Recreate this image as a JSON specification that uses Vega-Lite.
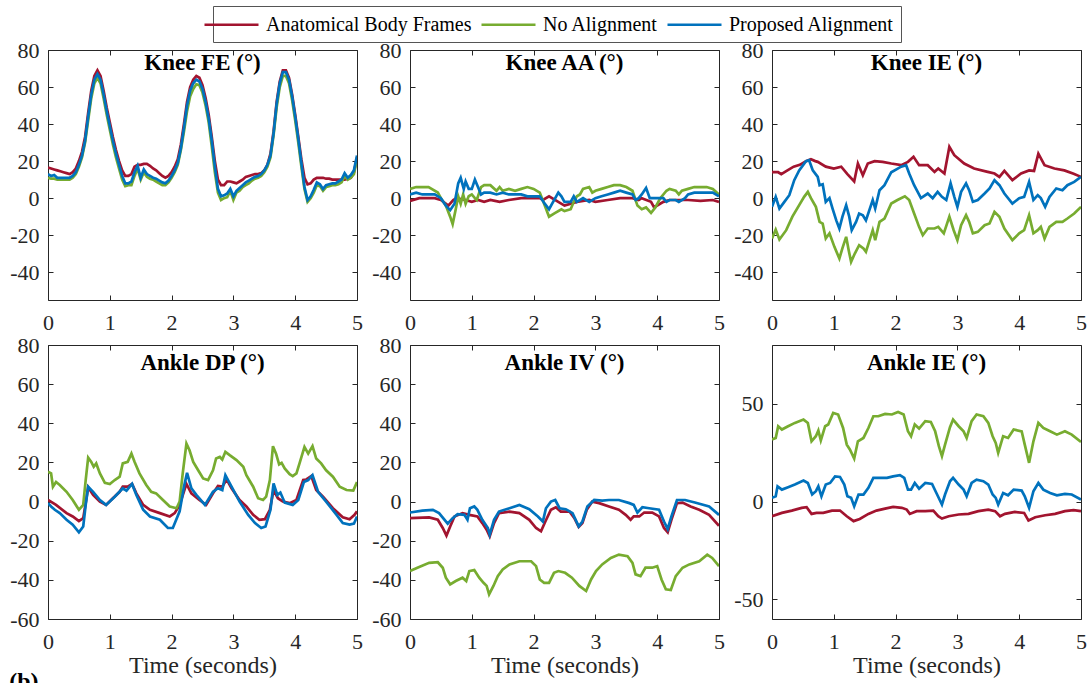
{
"$schema":"https://vega.github.io/schema/vega-lite/v6.json",
"padding":{"left":9,"top":5,"right":2,"bottom":0},
"title":{"text":"(b)","orient":"bottom","anchor":"start","frame":"bounds","fontSize":24,"fontWeight":"bold","offset":-8,"baseline":"top","color":"#000000"},
"data":{"values":[
{"p":"Knee FE (°)","s":"Anatomical Body Frames","t":[0,0.05,0.1,0.15,0.2,0.25,0.3,0.35,0.4,0.45,0.5,0.55,0.6,0.65,0.7,0.75,0.8,0.85,0.9,0.95,1,1.05,1.1,1.15,1.2,1.25,1.3,1.35,1.4,1.45,1.5,1.55,1.6,1.65,1.7,1.75,1.8,1.85,1.9,1.95,2,2.05,2.1,2.15,2.2,2.25,2.3,2.35,2.4,2.45,2.5,2.55,2.6,2.65,2.7,2.75,2.8,2.85,2.9,2.95,3,3.05,3.1,3.15,3.2,3.25,3.3,3.35,3.4,3.45,3.5,3.55,3.6,3.65,3.7,3.75,3.8,3.85,3.9,3.95,4,4.05,4.1,4.15,4.2,4.25,4.3,4.35,4.4,4.45,4.5,4.55,4.6,4.65,4.7,4.75,4.8,4.85,4.9,4.95,5],"v":[16.5,16,15.5,15,14.5,14,13.5,13,14,16,20,25,33,46,58,66,69,66,58,49,41,33,26,20,15,12,12,13,17,18,18,18.5,18.5,17.5,16,15,13.5,12,11,12,14,17,21,29,40,52,60,64,66,65,61,54,45,33,20,10,7,7,9,9,8.5,8,9,10,11.5,12,12.5,13,13,13.5,15,18,24,36,52,63,69,69,65,56,45,33,21,11,7.5,8,10,11,11,11,10.5,10.5,10,10,10,10,10,10.5,11,14,22]},
{"p":"Knee FE (°)","s":"No Alignment","t":[0,0.05,0.1,0.15,0.2,0.25,0.3,0.35,0.4,0.45,0.5,0.55,0.6,0.65,0.7,0.75,0.8,0.85,0.9,0.95,1,1.05,1.1,1.15,1.2,1.25,1.3,1.35,1.4,1.45,1.5,1.55,1.6,1.65,1.7,1.75,1.8,1.85,1.9,1.95,2,2.05,2.1,2.15,2.2,2.25,2.3,2.35,2.4,2.45,2.5,2.55,2.6,2.65,2.7,2.75,2.8,2.85,2.9,2.95,3,3.05,3.1,3.15,3.2,3.25,3.3,3.35,3.4,3.45,3.5,3.55,3.6,3.65,3.7,3.75,3.8,3.85,3.9,3.95,4,4.05,4.1,4.15,4.2,4.25,4.3,4.35,4.4,4.45,4.5,4.55,4.6,4.65,4.7,4.75,4.8,4.85,4.9,4.95,5],"v":[11,10.5,10.5,10,10,10,10,10,11,13,17,22,30,42,54,62,65,62,54,45,37,29,22,16,10,6.5,7,7,12,16,10,14,11.5,10.5,10,9,8,7,7,8.5,11,14,18,26,36,47,55,59,61.5,61,57,50,41,28,14,3,-1,0,0.5,4,-1,3,4,6,7,8,9.5,10.5,11,12,14,17,22,34,49,60,66,66,62,53,42,30,17,5,-2,0,3,7,6.5,4,6,6.5,7,7,7.5,8.5,12,10,11,13,21]},
{"p":"Knee FE (°)","s":"Proposed Alignment","t":[0,0.05,0.1,0.15,0.2,0.25,0.3,0.35,0.4,0.45,0.5,0.55,0.6,0.65,0.7,0.75,0.8,0.85,0.9,0.95,1,1.05,1.1,1.15,1.2,1.25,1.3,1.35,1.4,1.45,1.5,1.55,1.6,1.65,1.7,1.75,1.8,1.85,1.9,1.95,2,2.05,2.1,2.15,2.2,2.25,2.3,2.35,2.4,2.45,2.5,2.55,2.6,2.65,2.7,2.75,2.8,2.85,2.9,2.95,3,3.05,3.1,3.15,3.2,3.25,3.3,3.35,3.4,3.45,3.5,3.55,3.6,3.65,3.7,3.75,3.8,3.85,3.9,3.95,4,4.05,4.1,4.15,4.2,4.25,4.3,4.35,4.4,4.45,4.5,4.55,4.6,4.65,4.7,4.75,4.8,4.85,4.9,4.95,5],"v":[13,12,12.5,11,11,11,11,11,12,14,18,23,31,44,56,64,67,64,56,47,39,31,24,18,12,8,8,9,14,17.5,11,15.5,13,12,11,10.5,9.5,8.5,8,9.5,12,15,19,27,38,50,58,62,64,63,59,52,43,31,17,5,1,1.5,2.5,5,1,4,5.5,7,8.5,9.5,10.5,11.5,12,13,15,18,23,35,51,62,68,68,64,55,44,32,19,6,-1,1,4.5,8.5,7.5,5,7,7.5,8,8,9,10,13.5,11,12.5,15,23]},
{"p":"Knee AA (°)","s":"Anatomical Body Frames","t":[0,0.15,0.4,0.5,0.62,0.7,0.75,0.9,1.0,1.1,1.2,1.3,1.45,1.6,1.8,2.0,2.1,2.15,2.25,2.5,2.7,2.9,3.0,3.2,3.4,3.6,3.7,3.75,3.9,3.95,4.1,4.2,4.5,4.7,4.9,5],"v":[-1.5,0,0,-1,-4,-1,0,-1,-2,-1,-2,-1,-2,-1,0,0,0,-1,1,-4,-2,-1,-2,-1,0,0,-1,0,-2,-5,-2,-1,-1,-1.5,-1,-2]},
{"p":"Knee AA (°)","s":"No Alignment","t":[0,0.1,0.3,0.35,0.45,0.5,0.58,0.65,0.69,0.74,0.78,0.82,0.86,0.9,0.95,1.0,1.05,1.08,1.15,1.2,1.3,1.4,1.45,1.5,1.6,1.7,1.8,1.9,2.0,2.1,2.17,2.25,2.35,2.45,2.5,2.6,2.65,2.7,2.75,2.8,2.9,2.95,3.0,3.1,3.2,3.3,3.4,3.5,3.6,3.68,3.75,3.82,3.9,3.97,4.05,4.15,4.2,4.3,4.35,4.4,4.5,4.6,4.7,4.8,4.9,5],"v":[5,6,6,5,3,0,-4,-10,-14,-6,1,-3,2,-3,1,2,0,-1,6,7,7,4,6,4,5,4,5,6,5,3,-3,-10,-8,-6,-7,-6,-2,1,2,5,6,3,4,5,6,7,7,6,4,-4,-6,-5,-8,-5,0,4,5,4,2,4,5,6,6,6,5,2]},
{"p":"Knee AA (°)","s":"Proposed Alignment","t":[0,0.1,0.2,0.4,0.5,0.58,0.65,0.72,0.78,0.82,0.87,0.9,0.95,1.0,1.05,1.1,1.15,1.2,1.3,1.4,1.5,1.6,1.7,1.8,1.9,2.0,2.1,2.18,2.25,2.3,2.4,2.45,2.5,2.6,2.65,2.7,2.8,2.9,3.0,3.1,3.2,3.3,3.4,3.5,3.6,3.65,3.7,3.75,3.82,3.88,4.0,4.1,4.15,4.2,4.3,4.35,4.45,4.5,4.6,4.7,4.8,4.9,5],"v":[2,3,2,2,0,-4,-6.5,-3,8,11,5,9,5,5,10,6,2,3,3,2,3,2,2,2,1,1,1,-3,-6,-3,3,1,-2,-2,1,-2,0,-2,0,1,2,3,4,3,2,-1,0,2,5.5,0,0,0,-2,-1,-1,-2,0,2,3,3,3,3,1]},
{"p":"Knee IE (°)","s":"Anatomical Body Frames","t":[0,0.1,0.15,0.25,0.35,0.45,0.55,0.63,0.7,0.74,0.87,1.0,1.12,1.22,1.33,1.39,1.47,1.55,1.66,1.79,1.93,2.09,2.2,2.29,2.38,2.52,2.63,2.69,2.79,2.87,2.95,3.11,3.27,3.49,3.6,3.68,3.76,3.89,4.03,4.16,4.24,4.31,4.41,4.57,4.73,4.87,5],"v":[14,14,13,15,17,18,20,21,20,19.6,17,16,17,13,9,18.7,12.4,18.7,20,19.6,18.7,17.8,19.6,22.3,17.8,17.8,14.2,16,13.3,27.7,23.2,18.7,16,14.2,13.3,11.5,14.7,9.7,13.3,15,14.7,24,17.8,16,15,13.3,11.5]},
{"p":"Knee IE (°)","s":"No Alignment","t":[0,0.06,0.12,0.23,0.33,0.44,0.52,0.58,0.63,0.71,0.77,0.82,0.87,0.93,1.01,1.09,1.14,1.2,1.24,1.28,1.34,1.41,1.48,1.52,1.63,1.67,1.74,1.82,1.93,2.03,2.15,2.22,2.3,2.38,2.44,2.52,2.63,2.69,2.78,2.87,2.94,3.0,3.06,3.14,3.19,3.25,3.33,3.44,3.52,3.6,3.68,3.76,3.89,4.0,4.08,4.16,4.23,4.3,4.35,4.41,4.49,4.6,4.7,4.78,4.89,5],"v":[-21.8,-17,-22.3,-17.3,-10,-3.8,0.7,3.4,0,-4.7,-12.8,-13.7,-21.8,-19,-26.3,-32.6,-27,-20.9,-28,-34.4,-29.9,-25.4,-27.2,-29,-17.3,-22.7,-12.8,-11,-2.9,-1,1,-1,-8.3,-15.5,-20,-16.4,-16.4,-15.5,-19,-10,-17.3,-22.7,-14.6,-9.2,-12.8,-19,-18.2,-14.6,-13.7,-7.4,-10,-16.4,-22.7,-19,-17.3,-9.2,-19,-17.3,-15.5,-21.8,-15.5,-12.8,-12.8,-11,-8.3,-4.7]},
{"p":"Knee IE (°)","s":"Proposed Alignment","t":[0,0.06,0.12,0.2,0.28,0.36,0.44,0.55,0.6,0.66,0.74,0.77,0.82,0.87,0.93,0.98,1.04,1.09,1.14,1.2,1.25,1.29,1.36,1.41,1.47,1.52,1.63,1.67,1.74,1.82,1.93,2.09,2.17,2.22,2.3,2.41,2.52,2.6,2.68,2.75,2.82,2.89,2.95,3.0,3.06,3.14,3.19,3.25,3.33,3.44,3.52,3.6,3.68,3.76,3.89,4.0,4.08,4.16,4.23,4.3,4.35,4.42,4.49,4.6,4.7,4.78,4.89,5],"v":[-4.7,0.7,-5.6,-2,1.6,9.7,15,20,20.5,15,11.5,7,7.5,-2,0,-5.6,-12,-16.4,-10,-3.8,-10,-17.3,-12.8,-8.3,-9.2,-12,-1,-5.6,4.3,7,14,17,17.8,13.3,7,0,2.5,0,3.4,0.7,-1,8,0.7,-4.7,3.4,8,4.3,-2,-1,2.5,5.2,9.7,7,2.5,-2.9,0,0.7,8.8,-1,1.6,0,-4.7,0.7,5.2,4.3,7,8.8,11.5]},
{"p":"Ankle DP (°)","s":"Anatomical Body Frames","t":[0,0.13,0.3,0.4,0.5,0.57,0.61,0.65,0.73,0.84,0.94,1.05,1.16,1.21,1.29,1.36,1.43,1.54,1.65,1.81,1.97,2.05,2.13,2.24,2.32,2.45,2.56,2.67,2.75,2.82,2.89,2.97,3.1,3.21,3.32,3.42,3.51,3.59,3.65,3.72,3.8,3.91,4.02,4.13,4.18,4.26,4.34,4.45,4.61,4.77,4.88,4.96,5],"v":[0.8,-1.7,-5.9,-7.6,-10,-8.5,-0.8,7.3,3.4,0,-1.7,1.7,5,7.6,7.6,9,4.2,-1.7,-4.2,-5.9,-7.6,-5.9,-1.7,9,4.2,0.8,-1.7,4.2,8,7.6,11.3,6.8,0.8,-2.5,-6.8,-9.3,-9,-4.2,5.9,1.7,0,-0.8,0.8,11,11.3,13,5.9,2.5,-3.4,-8,-9,-6.8,-5]},
{"p":"Ankle DP (°)","s":"No Alignment","t":[0,0.05,0.08,0.13,0.19,0.3,0.4,0.5,0.57,0.61,0.65,0.7,0.74,0.78,0.84,0.92,1.0,1.08,1.16,1.21,1.29,1.35,1.4,1.48,1.59,1.67,1.75,1.86,1.97,2.08,2.13,2.18,2.24,2.29,2.35,2.43,2.51,2.59,2.67,2.72,2.78,2.82,2.87,2.94,3.05,3.16,3.21,3.32,3.4,3.48,3.53,3.59,3.64,3.69,3.74,3.78,3.83,3.91,3.96,4.02,4.07,4.15,4.21,4.28,4.34,4.42,4.5,4.61,4.72,4.83,4.94,5],"v":[15.2,14.4,7.6,10,8.5,5,0.8,-4.2,-1.7,11,22.5,20.3,17.8,19.5,14.4,9.6,9,11,12.7,19.5,20.3,24.5,20.3,14.4,8.5,5,4.2,0.8,-2.5,-3.4,0,14.4,29.6,26.2,20.3,16,11.8,11,16,22,22.8,21.5,25.4,23.7,21.2,17.8,13.5,7.6,1.7,0.8,2.5,11,28.3,24.5,19,19.8,16.9,14,13,14.4,19.5,27.9,24.5,28.3,22,19.5,16,12.7,7.6,5.9,5.6,10]},
{"p":"Ankle DP (°)","s":"Proposed Alignment","t":[0,0.05,0.11,0.19,0.3,0.4,0.5,0.57,0.61,0.65,0.73,0.84,0.94,1.08,1.21,1.27,1.36,1.43,1.54,1.65,1.81,1.94,2.02,2.13,2.2,2.25,2.32,2.4,2.54,2.67,2.75,2.82,2.87,2.97,3.1,3.24,3.35,3.45,3.52,3.6,3.65,3.71,3.76,3.83,3.96,4.05,4.14,4.21,4.28,4.37,4.5,4.67,4.77,4.88,4.95,5],"v":[-0.8,-2.5,-4.2,-5.9,-9.3,-11.8,-15.7,-12.7,-1.7,7.6,5,0.8,-1.7,2.5,6.8,5.6,9,3.4,-4.2,-7.6,-9.3,-13.5,-13.5,-5,7.6,14.7,6.8,3.4,-1.7,5,6.8,5.9,13.5,7.6,0,-6.8,-11,-13.5,-12.7,-4.2,9.3,3.4,4.6,-0.5,-1.7,0.8,10,11,13.5,5,0,-6.8,-11,-11.8,-11.3,-7.6]},
{"p":"Ankle IV (°)","s":"Anatomical Body Frames","t":[0,0.31,0.45,0.53,0.59,0.65,0.72,0.85,0.96,1.09,1.17,1.24,1.29,1.36,1.44,1.61,1.77,1.93,2.04,2.12,2.19,2.28,2.36,2.44,2.58,2.66,2.73,2.79,2.86,2.95,3.06,3.22,3.38,3.49,3.57,3.62,3.71,3.79,3.92,4.03,4.11,4.17,4.23,4.32,4.41,4.54,4.68,4.84,5],"v":[-8.5,-8.1,-9.3,-13.5,-17.4,-12.7,-7.6,-5.9,-6.8,-7.6,-11,-14.4,-17.8,-11,-5.9,-5.1,-5.9,-9.3,-13.5,-15.2,-10.2,-4.2,-2.9,-5.1,-5.1,-8.5,-13,-11,-4.2,0,-0.8,-2.5,-4.2,-6.8,-9.3,-7.6,-7.6,-5.6,-5.6,-7.6,-13.5,-15.7,-9.3,-0.8,-0.5,-2.5,-4.2,-6.8,-12.4]},
{"p":"Ankle IV (°)","s":"No Alignment","t":[0,0.12,0.31,0.45,0.53,0.58,0.65,0.74,0.85,0.91,0.96,1.04,1.12,1.19,1.24,1.28,1.35,1.42,1.5,1.61,1.77,1.96,2.04,2.1,2.17,2.25,2.33,2.4,2.51,2.62,2.74,2.85,2.93,3.01,3.11,3.25,3.38,3.52,3.6,3.65,3.73,3.81,3.92,4.0,4.07,4.14,4.22,4.3,4.41,4.52,4.68,4.81,4.89,5],"v":[-35.5,-33.8,-31.3,-31,-33.8,-38.9,-42.3,-40.6,-38.9,-40.6,-35.5,-35,-38.9,-41.5,-43.1,-47.4,-43.1,-38.1,-34.7,-32.1,-30.5,-30.5,-33,-39.8,-41.5,-41.5,-36.4,-35.5,-36.4,-38.9,-43.1,-45.7,-39.8,-35.5,-32.1,-28.8,-27.1,-27.9,-31.3,-37.2,-38.1,-33.8,-33.8,-33,-39.8,-44.8,-45.2,-38.1,-33.8,-32.1,-30.5,-27.1,-28.8,-33]},
{"p":"Ankle IV (°)","s":"Proposed Alignment","t":[0,0.2,0.37,0.47,0.61,0.69,0.77,0.88,0.93,0.97,1.04,1.09,1.17,1.26,1.29,1.36,1.44,1.61,1.77,1.93,2.07,2.15,2.2,2.28,2.35,2.42,2.52,2.63,2.73,2.79,2.87,2.98,3.11,3.22,3.38,3.55,3.62,3.68,3.76,3.87,4.03,4.11,4.17,4.23,4.32,4.45,4.61,4.84,5],"v":[-5.6,-4.6,-4.2,-5.9,-11.3,-8.5,-6.4,-6.8,-9.3,-3.4,-2.5,-4.2,-9.3,-13.5,-16.9,-9.3,-5.1,-3.4,-1.7,-3.9,-7.6,-10.2,-3.4,0,0.8,-3.4,-3.9,-5.9,-12.7,-10.2,-2.5,0.8,0.5,0.8,0.8,-0.8,-1.7,-5.6,-2.9,-3.4,-4.2,-10.2,-14,-7.6,0.8,0.8,-0.5,-2.5,-6.8]},
{"p":"Ankle IE (°)","s":"Anatomical Body Frames","t":[0,0.16,0.32,0.48,0.56,0.64,0.72,0.83,0.97,1.1,1.21,1.32,1.42,1.56,1.69,1.83,1.96,2.1,2.18,2.23,2.34,2.48,2.61,2.69,2.75,2.86,3.02,3.18,3.34,3.5,3.61,3.69,3.77,3.93,4.08,4.15,4.26,4.42,4.58,4.74,4.88,5],"v":[-7.5,-5.8,-4.6,-3.2,-2.9,-6.3,-5.8,-5.8,-4.6,-4.6,-7.5,-10,-8.9,-6.3,-4.6,-3.6,-2.7,-3.2,-4.1,-6.3,-4.9,-4.9,-4.6,-7.5,-8.7,-7.5,-6.6,-6.3,-4.9,-4.1,-4.9,-7.5,-6.3,-5.3,-5.8,-9.7,-8,-7,-6.3,-4.9,-4.4,-4.9]},
{"p":"Ankle IE (°)","s":"No Alignment","t":[0,0.06,0.1,0.16,0.26,0.37,0.51,0.58,0.64,0.71,0.75,0.79,0.86,0.91,0.99,1.07,1.15,1.21,1.26,1.33,1.39,1.48,1.56,1.64,1.72,1.83,1.94,2.04,2.13,2.2,2.25,2.31,2.38,2.48,2.57,2.64,2.7,2.75,2.8,2.88,2.93,3.02,3.1,3.15,3.23,3.31,3.42,3.5,3.57,3.62,3.66,3.74,3.82,3.91,4.04,4.09,4.16,4.23,4.31,4.39,4.5,4.61,4.74,4.85,5],"v":[31.7,32.5,38.5,36.8,38.5,40.2,41.9,40.2,30.8,33.4,36.3,31.2,38.5,39.4,45.3,44.5,37.6,29.1,26.6,22,30.8,32.5,37.6,43.6,43.6,44.8,44.5,45.8,44.5,35.9,33.4,39.4,37.3,41.1,40.7,35.9,28.3,23.2,29.1,38,41.9,38.5,35.9,32.5,41.1,44.5,43.6,40.2,33.4,30,24.9,33.4,32.5,36.8,35.9,29.1,19.8,30.8,40.2,37.6,35.9,34.2,35.9,34.2,30.5]},
{"p":"Ankle IE (°)","s":"Proposed Alignment","t":[0,0.06,0.09,0.16,0.26,0.37,0.51,0.58,0.65,0.71,0.75,0.8,0.87,0.94,1.02,1.1,1.17,1.22,1.28,1.33,1.4,1.48,1.56,1.64,1.75,1.86,1.96,2.07,2.14,2.2,2.25,2.31,2.38,2.48,2.59,2.66,2.75,2.8,2.88,2.93,3.02,3.1,3.15,3.23,3.31,3.42,3.5,3.57,3.62,3.66,3.74,3.82,3.91,4.04,4.09,4.16,4.23,4.31,4.39,4.5,4.61,4.74,4.85,5],"v":[1.9,2.7,7.8,6.1,7.3,8.7,10.7,9.5,3.6,5.3,7.8,2.7,8.7,9.5,12.9,12.6,8.7,2.7,1.9,-2.4,3.6,3.6,7,12.1,12.1,12.1,12.9,13.5,12.1,6.1,6.1,9.5,6.6,9.5,9,4.4,-1.5,3.6,10.4,12.1,8.7,6.1,2.7,9.5,11.2,10.4,8.7,3.6,1.9,-1.5,4.4,3.2,6.1,5.6,2.7,-3.2,5.3,9.5,6.1,4.4,3.2,3.9,3.6,1]}
]},
"columns":3,
"spacing":{"row":45,"column":53},
"bounds":"flush",
"concat":[
{"width":309,"height":250,"title":{"text":"Knee FE (°)","offset":-36},
 "transform":[{"filter":"datum.p === 'Knee FE (°)'"},{"flatten":["t","v"]}],
 "layer":[
  {"mark":{"type":"line","strokeWidth":2.7,"clip":true},
   "encoding":{
    "x":{"field":"t","type":"quantitative","scale":{"domain":[0,5],"nice":false},"axis":{"orient":"bottom","values":[0,1,2,3,4,5],"title":null}},
    "y":{"field":"v","type":"quantitative","scale":{"domain":[-55,80],"nice":false,"zero":false},"axis":{"orient":"left","values":[-40,-20,0,20,40,60,80],"labelExpr":"'' + datum.value","title":null}},
    "color":{"field":"s","type":"nominal","scale":{"domain":["Anatomical Body Frames","No Alignment","Proposed Alignment"],"range":["#A2142F","#77AC30","#0072BD"]},"legend":{"title":null}}}},
  {"mark":{"type":"line","opacity":0},
   "encoding":{
    "x":{"field":"t","type":"quantitative","axis":{"orient":"top","values":[0,1,2,3,4,5],"labels":false,"title":null}},
    "y":{"field":"v","type":"quantitative","axis":{"orient":"right","values":[-40,-20,0,20,40,60,80],"labels":false,"title":null}},
    "detail":{"field":"s"}}}],
 "resolve":{"axis":{"x":"independent","y":"independent"}}},
{"width":309,"height":250,"title":{"text":"Knee AA (°)","offset":-36},
 "transform":[{"filter":"datum.p === 'Knee AA (°)'"},{"flatten":["t","v"]}],
 "layer":[
  {"mark":{"type":"line","strokeWidth":2.7,"clip":true},
   "encoding":{
    "x":{"field":"t","type":"quantitative","scale":{"domain":[0,5],"nice":false},"axis":{"orient":"bottom","values":[0,1,2,3,4,5],"title":null}},
    "y":{"field":"v","type":"quantitative","scale":{"domain":[-55,80],"nice":false,"zero":false},"axis":{"orient":"left","values":[-40,-20,0,20,40,60,80],"labelExpr":"'' + datum.value","title":null}},
    "color":{"field":"s","type":"nominal","scale":{"domain":["Anatomical Body Frames","No Alignment","Proposed Alignment"],"range":["#A2142F","#77AC30","#0072BD"]},"legend":{"title":null}}}},
  {"mark":{"type":"line","opacity":0},
   "encoding":{
    "x":{"field":"t","type":"quantitative","axis":{"orient":"top","values":[0,1,2,3,4,5],"labels":false,"title":null}},
    "y":{"field":"v","type":"quantitative","axis":{"orient":"right","values":[-40,-20,0,20,40,60,80],"labels":false,"title":null}},
    "detail":{"field":"s"}}}],
 "resolve":{"axis":{"x":"independent","y":"independent"}}},
{"width":309,"height":250,"title":{"text":"Knee IE (°)","offset":-36},
 "transform":[{"filter":"datum.p === 'Knee IE (°)'"},{"flatten":["t","v"]}],
 "layer":[
  {"mark":{"type":"line","strokeWidth":2.7,"clip":true},
   "encoding":{
    "x":{"field":"t","type":"quantitative","scale":{"domain":[0,5],"nice":false},"axis":{"orient":"bottom","values":[0,1,2,3,4,5],"title":null}},
    "y":{"field":"v","type":"quantitative","scale":{"domain":[-55,80],"nice":false,"zero":false},"axis":{"orient":"left","values":[-40,-20,0,20,40,60,80],"labelExpr":"'' + datum.value","title":null}},
    "color":{"field":"s","type":"nominal","scale":{"domain":["Anatomical Body Frames","No Alignment","Proposed Alignment"],"range":["#A2142F","#77AC30","#0072BD"]},"legend":{"title":null}}}},
  {"mark":{"type":"line","opacity":0},
   "encoding":{
    "x":{"field":"t","type":"quantitative","axis":{"orient":"top","values":[0,1,2,3,4,5],"labels":false,"title":null}},
    "y":{"field":"v","type":"quantitative","axis":{"orient":"right","values":[-40,-20,0,20,40,60,80],"labels":false,"title":null}},
    "detail":{"field":"s"}}}],
 "resolve":{"axis":{"x":"independent","y":"independent"}}},
{"width":309,"height":274,"title":{"text":"Ankle DP (°)","offset":-41},
 "transform":[{"filter":"datum.p === 'Ankle DP (°)'"},{"flatten":["t","v"]}],
 "layer":[
  {"mark":{"type":"line","strokeWidth":2.7,"clip":true},
   "encoding":{
    "x":{"field":"t","type":"quantitative","scale":{"domain":[0,5],"nice":false},"axis":{"orient":"bottom","values":[0,1,2,3,4,5],"title":"Time (seconds)"}},
    "y":{"field":"v","type":"quantitative","scale":{"domain":[-60,80],"nice":false,"zero":false},"axis":{"orient":"left","values":[-60,-40,-20,0,20,40,60,80],"labelExpr":"'' + datum.value","title":null}},
    "color":{"field":"s","type":"nominal","scale":{"domain":["Anatomical Body Frames","No Alignment","Proposed Alignment"],"range":["#A2142F","#77AC30","#0072BD"]},"legend":{"title":null}}}},
  {"mark":{"type":"line","opacity":0},
   "encoding":{
    "x":{"field":"t","type":"quantitative","axis":{"orient":"top","values":[0,1,2,3,4,5],"labels":false,"title":null}},
    "y":{"field":"v","type":"quantitative","axis":{"orient":"right","values":[-60,-40,-20,0,20,40,60,80],"labels":false,"title":null}},
    "detail":{"field":"s"}}}],
 "resolve":{"axis":{"x":"independent","y":"independent"}}},
{"width":309,"height":274,"title":{"text":"Ankle IV (°)","offset":-41},
 "transform":[{"filter":"datum.p === 'Ankle IV (°)'"},{"flatten":["t","v"]}],
 "layer":[
  {"mark":{"type":"line","strokeWidth":2.7,"clip":true},
   "encoding":{
    "x":{"field":"t","type":"quantitative","scale":{"domain":[0,5],"nice":false},"axis":{"orient":"bottom","values":[0,1,2,3,4,5],"title":"Time (seconds)"}},
    "y":{"field":"v","type":"quantitative","scale":{"domain":[-60,80],"nice":false,"zero":false},"axis":{"orient":"left","values":[-60,-40,-20,0,20,40,60,80],"labelExpr":"'' + datum.value","title":null}},
    "color":{"field":"s","type":"nominal","scale":{"domain":["Anatomical Body Frames","No Alignment","Proposed Alignment"],"range":["#A2142F","#77AC30","#0072BD"]},"legend":{"title":null}}}},
  {"mark":{"type":"line","opacity":0},
   "encoding":{
    "x":{"field":"t","type":"quantitative","axis":{"orient":"top","values":[0,1,2,3,4,5],"labels":false,"title":null}},
    "y":{"field":"v","type":"quantitative","axis":{"orient":"right","values":[-60,-40,-20,0,20,40,60,80],"labels":false,"title":null}},
    "detail":{"field":"s"}}}],
 "resolve":{"axis":{"x":"independent","y":"independent"}}},
{"width":309,"height":274,"title":{"text":"Ankle IE (°)","offset":-30},
 "transform":[{"filter":"datum.p === 'Ankle IE (°)'"},{"flatten":["t","v"]}],
 "layer":[
  {"mark":{"type":"line","strokeWidth":2.7,"clip":true},
   "encoding":{
    "x":{"field":"t","type":"quantitative","scale":{"domain":[0,5],"nice":false},"axis":{"orient":"bottom","values":[0,1,2,3,4,5],"title":"Time (seconds)"}},
    "y":{"field":"v","type":"quantitative","scale":{"domain":[-60,80],"nice":false,"zero":false},"axis":{"orient":"left","values":[-50,0,50],"labelExpr":"'' + datum.value","title":null}},
    "color":{"field":"s","type":"nominal","scale":{"domain":["Anatomical Body Frames","No Alignment","Proposed Alignment"],"range":["#A2142F","#77AC30","#0072BD"]},"legend":{"title":null}}}},
  {"mark":{"type":"line","opacity":0},
   "encoding":{
    "x":{"field":"t","type":"quantitative","axis":{"orient":"top","values":[0,1,2,3,4,5],"labels":false,"title":null}},
    "y":{"field":"v","type":"quantitative","axis":{"orient":"right","values":[-50,0,50],"labels":false,"title":null}},
    "detail":{"field":"s"}}}],
 "resolve":{"axis":{"x":"independent","y":"independent"}}}
],
"config":{
 "font":"Liberation Serif",
 "background":"white",
 "view":{"stroke":"#262626","strokeWidth":1},
 "axis":{"grid":false,"domain":false,"ticks":true,"tickSize":-5,"tickColor":"#262626","tickWidth":1,"labelColor":"#262626","labelFont":"Liberation Serif","labelFontSize":22,"labelFlush":false,"labelOverlap":false,"titleFont":"Liberation Serif","titleFontSize":24,"titleFontWeight":"normal","titleColor":"#262626","titlePadding":1},
 "axisX":{"labelPadding":17},
 "axisY":{"labelPadding":14},
 "title":{"font":"Liberation Serif","fontSize":23,"fontWeight":"bold","color":"#000000","frame":"group","anchor":"middle","baseline":"alphabetic"},
 "legend":{"orient":"none","legendX":165,"legendY":-44,"direction":"horizontal","symbolType":"M-2.7,0H2.7","symbolSize":400,"symbolStrokeWidth":2.5,"labelFont":"Liberation Serif","labelFontSize":20,"labelColor":"#000000","labelOffset":23,"columnPadding":4,"padding":7,"strokeColor":"#555555","fillColor":"#ffffff","labelLimit":400}
}
}
